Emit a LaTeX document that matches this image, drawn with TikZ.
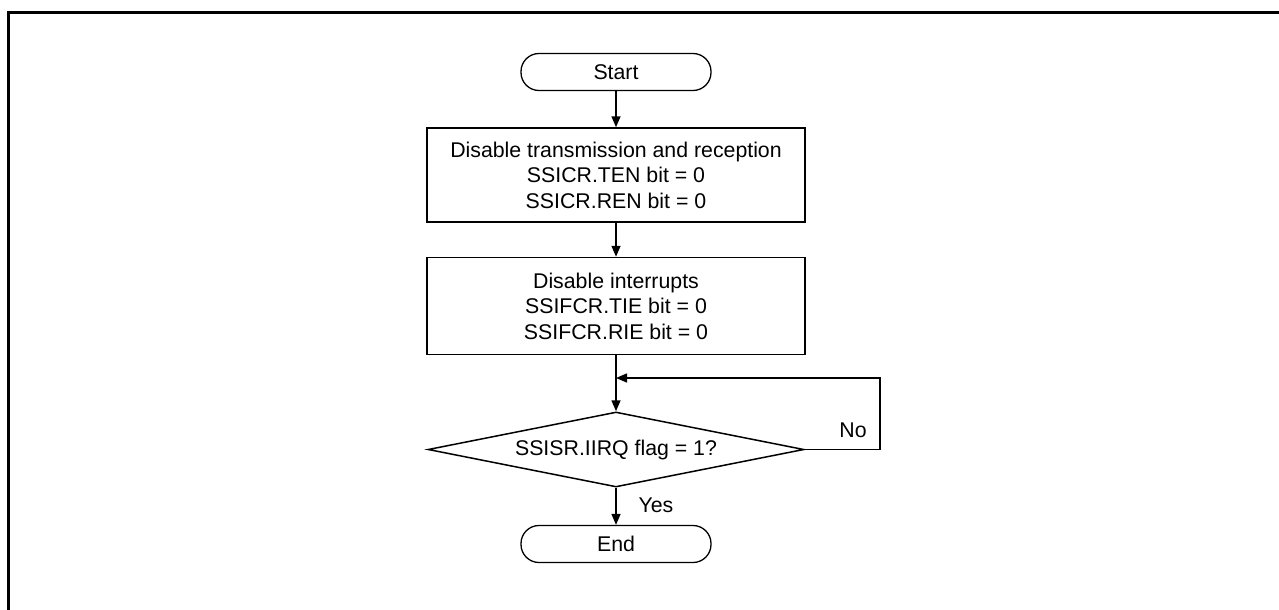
\documentclass[tikz,border=0pt]{standalone}
\usepackage{fontspec}
\setmainfont{Liberation Sans}
\usetikzlibrary{shapes.geometric,arrows.meta}
\begin{document}
\begin{tikzpicture}[x=1pt,y=-1pt,
  every node/.style={font=\fontsize{21.3}{25.5}\selectfont},
  term/.style={draw,line width=1.3pt,rounded corners=18pt,minimum width=190pt,minimum height=37pt,inner sep=0pt},
  proc/.style={draw,line width=1.5pt,minimum width=378pt,inner sep=0pt,align=center},
  dec/.style={draw,diamond,line width=1.5pt,minimum width=376pt,minimum height=75pt,inner sep=0pt,shape aspect=5},
  arr/.style={line width=1.5pt,-{Triangle[length=11pt,width=9pt]}},
  lbl/.style={inner sep=0pt}]
\useasboundingbox (0,0) rectangle (1279,610);
\draw[line width=3pt] (8,612) -- (8,13) -- (1281,13);
\node[term] (start) at (616,72) {Start};
\node[proc,minimum height=94pt] (b1) at (616,175) {Disable transmission and reception\\SSICR.TEN bit = 0\\SSICR.REN bit = 0};
\node[proc,minimum height=97pt] (b2) at (616,306) {Disable interrupts\\SSIFCR.TIE bit = 0\\SSIFCR.RIE bit = 0};
\node[dec] (dia) at (616,449.5) {SSISR.IIRQ flag = 1?};
\node[term] (end) at (616,544) {End};
\coordinate (j) at (616,378);
\draw[arr] (start) -- (b1);
\draw[arr] (b1) -- (b2);
\draw[arr] (b2) -- (dia);
\draw[arr] (dia.east) -- (880,449.5) |- (j);
\draw[arr] (dia) -- (end);
\node[lbl] (no) at (853,430) {No};
\node[lbl] (yes) at (656,505) {Yes};
\end{tikzpicture}
\end{document}
